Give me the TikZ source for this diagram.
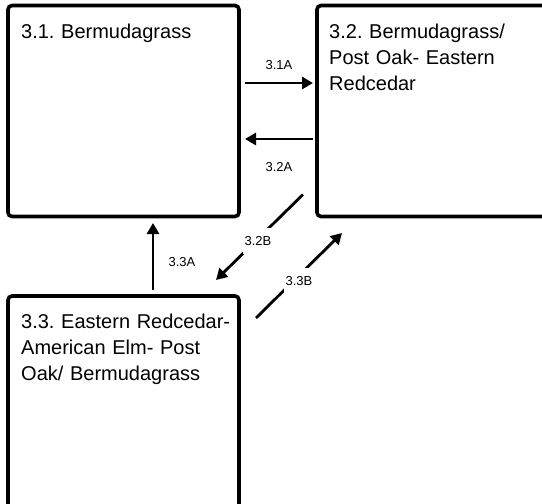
\documentclass[tikz,border=0pt]{standalone}
\usepackage{fontspec}
\setmainfont{Liberation Sans}
\usetikzlibrary{arrows.meta}
\frenchspacing
\tikzstyle{state}=[draw, line width=3.6pt, rounded corners=4pt,
                   inner sep=0pt, outer sep=0pt]
\tikzstyle{title}=[anchor=base west, text width=300pt, align=left,
                   inner sep=0pt, font=\fontsize{20}{26}\selectfont]
\tikzstyle{edge}=[-{Triangle[length=11pt,width=12pt]}, line width=2.8pt]
\tikzstyle{tag}=[font=\fontsize{13}{15}\selectfont, inner sep=1pt]
\tikzstyle{cut}=[tag, fill=white, inner xsep=2pt, inner ysep=8.5pt]

\begin{document}
\begin{tikzpicture}[x=1pt, y=-1pt]
   \clip (0,0) rectangle (542,504);
   \node (b31) at (123.5,111) [state, minimum width=231pt, minimum height=211pt]{};
   \node (b32) at (443.5,111) [state, minimum width=253pt, minimum height=211pt]{};
   \node (b33) at (123.5,413) [state, minimum width=231pt, minimum height=234pt]{};

   \node (t31) at (21,38)   [title]{3.1. Bermudagrass};
   \node (t32) at (329,38)  [title]{3.2. Bermudagrass/\\Post Oak- Eastern\\Redcedar};
   \node (t33) at (21,328)  [title]{3.3. Eastern Redcedar-\\American Elm- Post\\Oak/ Bermudagrass};

   \draw [edge] ([shift={(6,-28)}]b31.east) --
     node [tag, yshift=18pt]{3.1A} ([shift={(-4,-28)}]b32.west);
   \draw [edge] ([shift={(-4,28)}]b32.west) --
     node [tag, yshift=-28pt]{3.2A} ([shift={(6,28)}]b31.west -| b31.east);
   \draw [edge] ([shift={(29.5,-6)}]b33.north) --
     node [tag, xshift=29pt, yshift=-5.5pt]{3.3A} ([shift={(29.5,6.5)}]b31.south);
   \draw [edge] ([shift={(-14,-22)}]b32.south west) --
     node [cut, xshift=-1.5pt, yshift=-4pt]{3.2B} ([shift={(-23,-16)}]b33.north east);
   \draw [edge] ([shift={(17,22)}]b33.north east) --
     node [cut, yshift=-5.5pt]{3.3B} ([shift={(25,16.5)}]b32.south west);
\end{tikzpicture}
\end{document}
